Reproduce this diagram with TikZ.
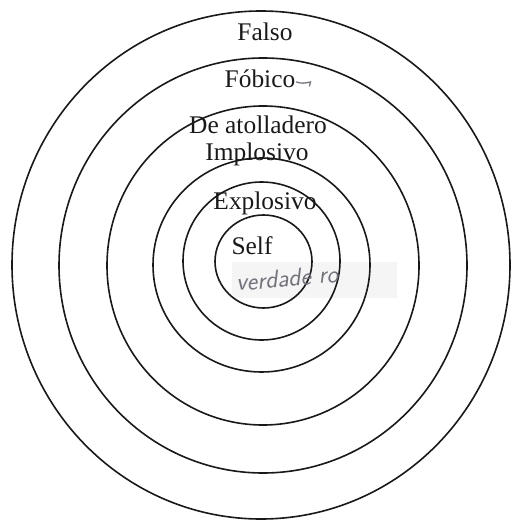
\documentclass[tikz,border=0pt]{standalone}
\usepackage{fontspec}
\setmainfont{Liberation Serif}
\usepackage{tikz}
\usetikzlibrary{positioning, calc}
\definecolor{ringdark}{RGB}{25,25,25}
\definecolor{pencil}{RGB}{115,115,125}
\definecolor{pastebg}{RGB}{245,245,245}
\tikzset{
  ring/.style={draw=ringdark, line width=1.6bp},
  layertext/.style={inner sep=0pt, font=\fontsize{25.5}{29}\selectfont, text=ringdark},
  handtext/.style={inner sep=0pt, font=\fontsize{25}{29}\sffamily\itshape, text=pencil},
  handline/.style={draw=pencil, line width=1.3bp, line cap=round}
}

\begin{document}
\begin{tikzpicture}[x=1bp, y=-1bp]
  \useasboundingbox (0,0) rectangle (511,521);

  % ── pasted note area ──────────────────────────────────────────────
  \fill[pastebg] (232,262) rectangle (397,298);

  % ── concentric layers (outer to inner) ───────────────────────────
  \foreach \cx/\cy/\rx/\ry in {261/265/249/254, 263/265.5/204/207.5,
      263/265.5/156/159.5, 261.5/265/108.5/107, 261.5/261/78.5/79,
      263.5/261.5/48.5/46.5} {
    \draw[ring] (\cx,\cy) ellipse [x radius=\rx, y radius=\ry];
  }

  % ── layer names ───────────────────────────────────────────────────
  \node[layertext] (falso) at (265,32) {Falso};
  \node[layertext] (fobico) at (260,79) {Fóbico};
  \node[layertext] (atollad) at (258,125) {De atolladero};
  \node[layertext] (implos) at (257,154) {Implosivo};
  \node[layertext] (explos) at (265,203) {Explosivo};
  \node[layertext] (self) at (252,246) {Self};

  % handwritten marks
  \draw[handline] ($(fobico.east)+(1,3)$) .. controls +(5,2) and +(-5,1) .. ++(14,0) -- ++(-1,4);
  \node[handtext, rotate=5] (verdad) at (287,278) {verdade ro};
\end{tikzpicture}
\end{document}
